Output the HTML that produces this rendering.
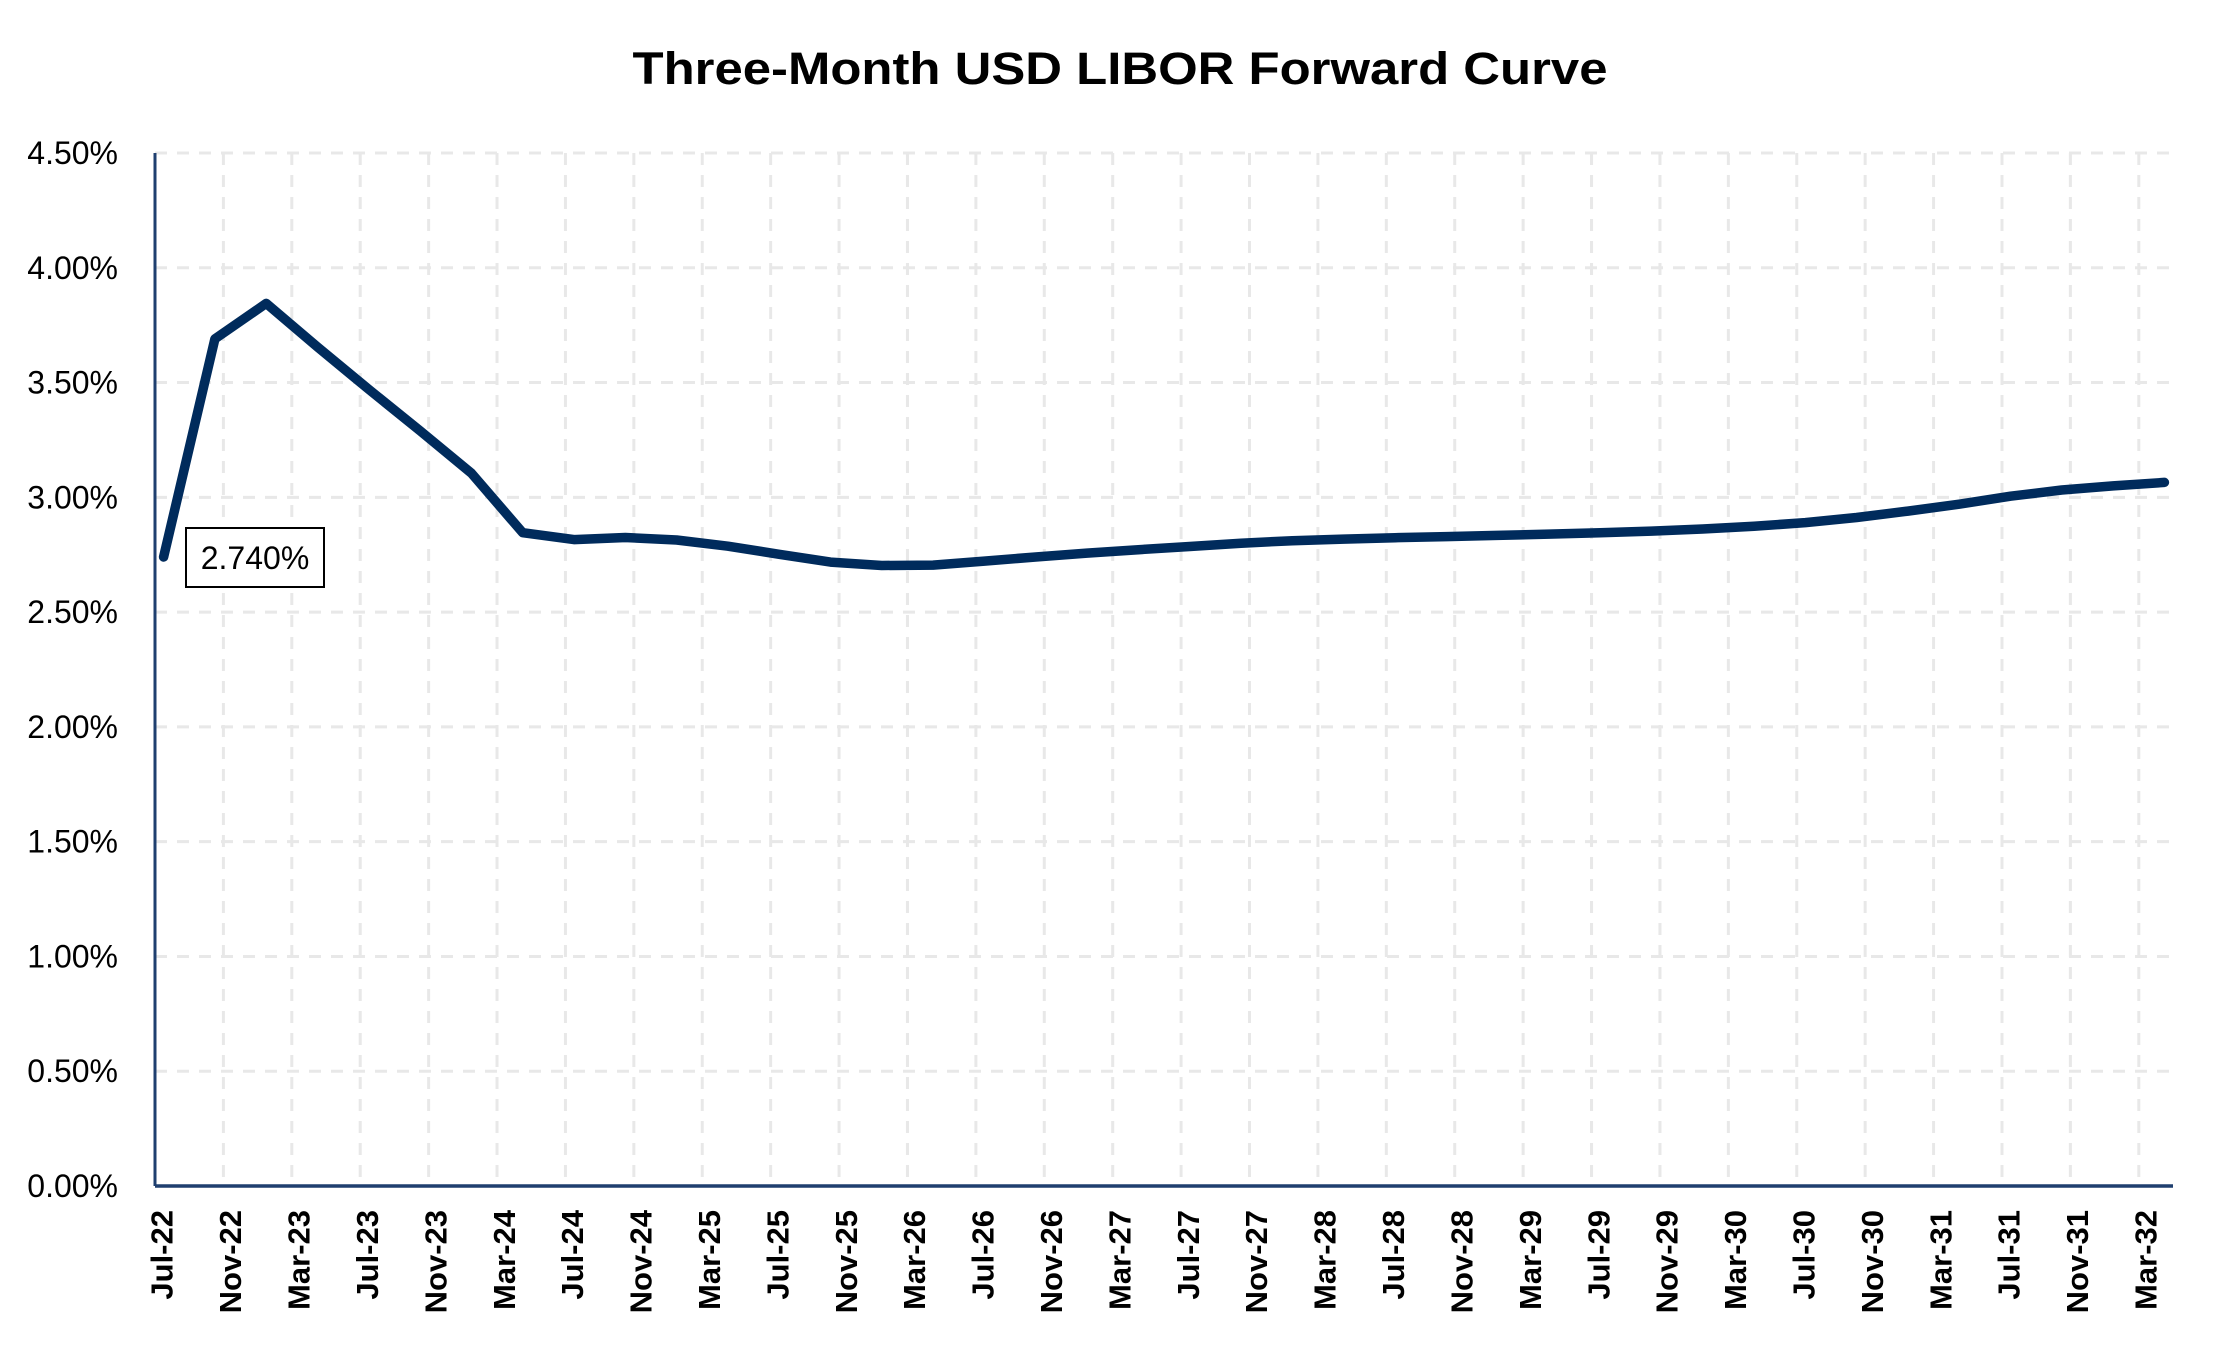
<!DOCTYPE html>
<html><head><meta charset="utf-8"><style>
html,body{margin:0;padding:0;background:#fff;}
svg{display:block;font-family:"Liberation Sans",Arial,sans-serif;}
</style></head><body>
<svg id="chart" width="2220" height="1350" viewBox="0 0 2220 1350" xmlns="http://www.w3.org/2000/svg">
<rect x="0" y="0" width="2220" height="1350" fill="#fff"/>
<text x="1120" y="84" text-anchor="middle" font-size="45" font-weight="bold" textLength="975" lengthAdjust="spacingAndGlyphs" fill="#000">Three-Month USD LIBOR Forward Curve</text>
<g id="grid"></g>
<g id="yticks"></g>
<g id="xticks"></g>
<g id="series"></g>
<line x1="155" y1="153" x2="155" y2="1186" stroke="#1f3f6f" stroke-width="3"/>
<line x1="155" y1="1186" x2="2173" y2="1186" stroke="#1f3f6f" stroke-width="3.5"/>
<g>
<rect x="186" y="528" width="138" height="59" fill="#fff" stroke="#000" stroke-width="2"/>
<text x="255" y="569" text-anchor="middle" font-size="32" fill="#000">2.740%</text>
</g>
</svg>
<script>
// Monthly categories Jul-22 .. Apr-32 (118 months); quarterly data points
const yTickValues = [0, 0.5, 1.0, 1.5, 2.0, 2.5, 3.0, 3.5, 4.0, 4.5];
const yTickLabels = ["0.00%","0.50%","1.00%","1.50%","2.00%","2.50%","3.00%","3.50%","4.00%","4.50%"];
const xTickLabels = ["Jul-22","Nov-22","Mar-23","Jul-23","Nov-23","Mar-24","Jul-24","Nov-24","Mar-25","Jul-25","Nov-25","Mar-26","Jul-26","Nov-26","Mar-27","Jul-27","Nov-27","Mar-28","Jul-28","Nov-28","Mar-29","Jul-29","Nov-29","Mar-30","Jul-30","Nov-30","Mar-31","Jul-31","Nov-31","Mar-32"];
const pointMonthIndex = [0,3,6,9,12,15,18,21,24,27,30,33,36,39,42,45,48,51,54,57,60,63,66,69,72,75,78,81,84,87,90,93,96,99,102,105,108,111,114,117];
const rateValues = [2.74,3.69,3.845,3.655,3.47,3.29,3.105,2.846,2.816,2.825,2.814,2.787,2.752,2.718,2.703,2.705,2.722,2.740,2.757,2.772,2.786,2.800,2.811,2.818,2.824,2.829,2.834,2.840,2.846,2.853,2.862,2.874,2.890,2.912,2.940,2.970,3.005,3.032,3.050,3.065];

const NS = "http://www.w3.org/2000/svg";
const plotLeft = 155, plotRight = 2173, plotTop = 153, plotBottom = 1186;
const nCats = 118, yMax = 4.5;
const catW = (plotRight - plotLeft) / nCats;
function xScale(i){ return plotLeft + (i + 0.5) * catW; }
function yScale(v){ return plotBottom - (v / yMax) * (plotBottom - plotTop); }
function mk(tag, attrs){ const e = document.createElementNS(NS, tag); for (const k in attrs) e.setAttribute(k, attrs[k]); return e; }

const grid = document.getElementById('grid');
yTickValues.forEach(function(v){
  if (v === 0) return;
  const l = mk('line', {x1: plotLeft, x2: plotRight, y1: yScale(v), y2: yScale(v), stroke: '#e8e8e8', 'stroke-width': 3, 'stroke-dasharray': '12 10'});
  
  
  grid.appendChild(l);
});
for (let k = 1; k < xTickLabels.length; k++) {
  const gx = plotLeft + 4 * k * catW;
  const l = mk('line', {x1: gx, x2: gx, y1: plotTop, y2: plotBottom, stroke: '#e8e8e8', 'stroke-width': 3, 'stroke-dasharray': '12 10'});
  
  
  grid.appendChild(l);
}

const yt = document.getElementById('yticks');
yTickValues.forEach(function(v, i){
  const t = mk('text', {x: 118, y: yScale(v) + 11, 'text-anchor': 'end', 'font-size': 32, fill: '#000'});
  t.textContent = yTickLabels[i];
  
  
  yt.appendChild(t);
});

const xt = document.getElementById('xticks');
xTickLabels.forEach(function(lab, k){
  const cx = xScale(4 * k) + 1;
  const t = mk('text', {x: 0, y: 0, 'text-anchor': 'end', 'dominant-baseline': 'middle', 'font-size': 31, 'font-weight': 'bold', fill: '#000', transform: 'translate(' + cx + ',1210) rotate(-90)'});
  t.textContent = lab;
  
  
  xt.appendChild(t);
});

const series = document.getElementById('series');
const d = pointMonthIndex.map(function(m, i){ return (i ? 'L' : 'M') + xScale(m).toFixed(1) + ',' + yScale(rateValues[i]).toFixed(1); }).join(' ');
const path = mk('path', {d: d, fill: 'none', stroke: '#002b5c', 'stroke-width': 9.5, 'stroke-linejoin': 'round', 'stroke-linecap': 'round'});


series.appendChild(path);
</script>
</body></html>
